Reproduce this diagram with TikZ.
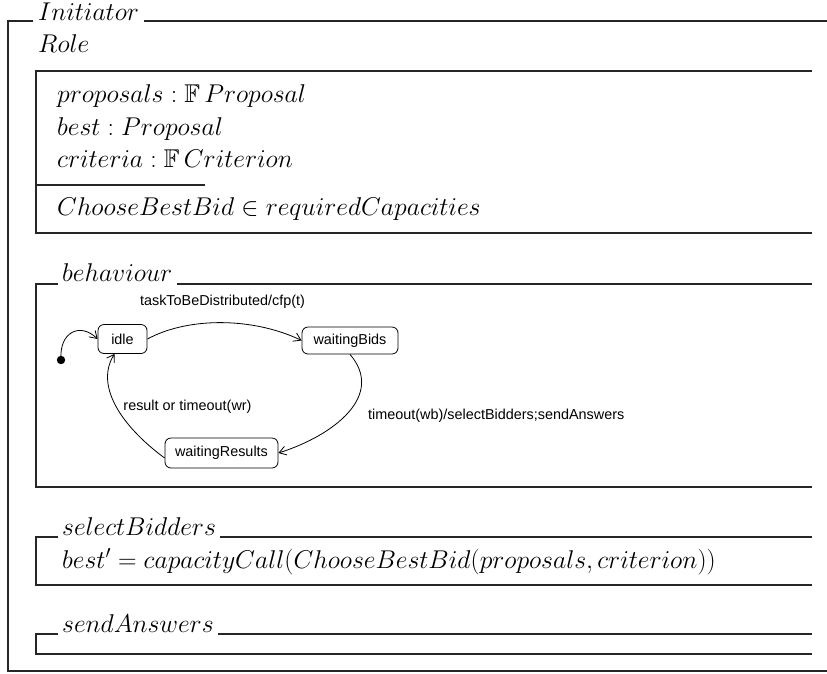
\RequirePackage{fix-cm}
\documentclass[tikz,border=0pt]{standalone}
\usepackage{amssymb}
\usepackage{fontspec}
\newfontfamily\lblfont{Liberation Sans}
\usetikzlibrary{arrows.meta}
\tikzset{
  frame/.style={line width=1.2pt, draw=black!85},
  ztext/.style={inner sep=0pt, anchor=base west, font=\fontsize{25.7}{30}\selectfont},
  ztitle/.style={inner sep=0pt, anchor=base west, font=\fontsize{25.7}{30}\selectfont},
  state/.style={draw, rounded corners=6pt, line width=0.8pt, font=\lblfont\fontsize{14.4}{16}\selectfont, minimum height=27pt, inner xsep=0pt},
  lbl/.style={inner sep=0pt, font=\lblfont\fontsize{14.4}{16}\selectfont},
  trans/.style={line width=0.8pt, -{Straight Barb[length=7pt,width=9pt]}},
}
\begin{document}
\begin{tikzpicture}[x=1pt,y=-1pt]
\useasboundingbox (0,0) rectangle (827,673);
% outer schema
\node[ztitle] (tInit) at (38,20) {$Initiator$};
\draw[frame] (827,21) -- ([xshift=5pt]tInit.east |- 0,21);
\draw[frame] ([xshift=-5pt]tInit.west |- 0,21) -- (8,21) -- (8,671) -- (827,671);
\node[ztext] (role) at (38,52) {$Role$};
% state schema
\draw[frame] (812,71) -- (36,71) -- (36,233) -- (812,233);
\draw[frame] (36,185) -- (205,185);
\node[ztext] (d1) at (57,102) {$proposals : \mathbb{F}\, Proposal$};
\node[ztext] (d2) at (57,135) {$best : Proposal$};
\node[ztext] (d3) at (57,167) {$criteria : \mathbb{F}\, Criterion$};
\node[ztext] (p1) at (57,215) {$ChooseBestBid \in requiredCapacities$};
% behaviour
\node[ztitle] (tBeh) at (62,281) {$behaviour$};
\draw[frame] ([xshift=-4pt]tBeh.west |- 0,284) -- (36,284) -- (36,487) -- (812,487);
\draw[frame] ([xshift=4pt]tBeh.east |- 0,284) -- (812,284);
\node[state, minimum width=49pt, minimum height=29pt] (idle) at (122.5,339) {idle};
\node[state, minimum width=96pt] (wb) at (350,340.5) {waitingBids};
\node[state, minimum width=113pt, minimum height=30pt] (wr) at (221.5,453) {waitingResults};
\fill (61,360) circle (4.2pt) coordinate (init);
\draw[trans] (init) .. controls (59,332) and (80,322) .. (idle.west);
\draw[trans] (idle.east) .. controls (190,316) and (255,318) .. (wb.west);
\draw[trans] (wb.south) .. controls (385,395) and (335,435) .. (wr.east);
\draw[trans] ([yshift=-5pt]wr.west) .. controls (120,425) and (95,385) .. ([xshift=-8pt]idle.south);
\node[lbl] (l1) at (222.5,302) {taskToBeDistributed/cfp(t)};
\node[lbl] (l2) at (187.5,407) {result or timeout(wr)};
\node[lbl, anchor=west] (l3) at (368,416) {timeout(wb)/selectBidders;sendAnswers};
% selectBidders
\node[ztitle] (tSel) at (62,535) {$selectBidders$};
\draw[frame] ([xshift=-4pt]tSel.west |- 0,537) -- (36,537) -- (36,585) -- (812,585);
\draw[frame] ([xshift=4pt]tSel.east |- 0,537) -- (812,537);
\node[ztext] (s1) at (62,568) {$best' = capacityCall(ChooseBestBid(proposals, criterion))$};
% sendAnswers
\node[ztitle] (tSend) at (62,632) {$sendAnswers$};
\draw[frame] ([xshift=-4pt]tSend.west |- 0,634) -- (36,634) -- (36,654) -- (812,654);
\draw[frame] ([xshift=4pt]tSend.east |- 0,634) -- (812,634);
\end{tikzpicture}
\end{document}
